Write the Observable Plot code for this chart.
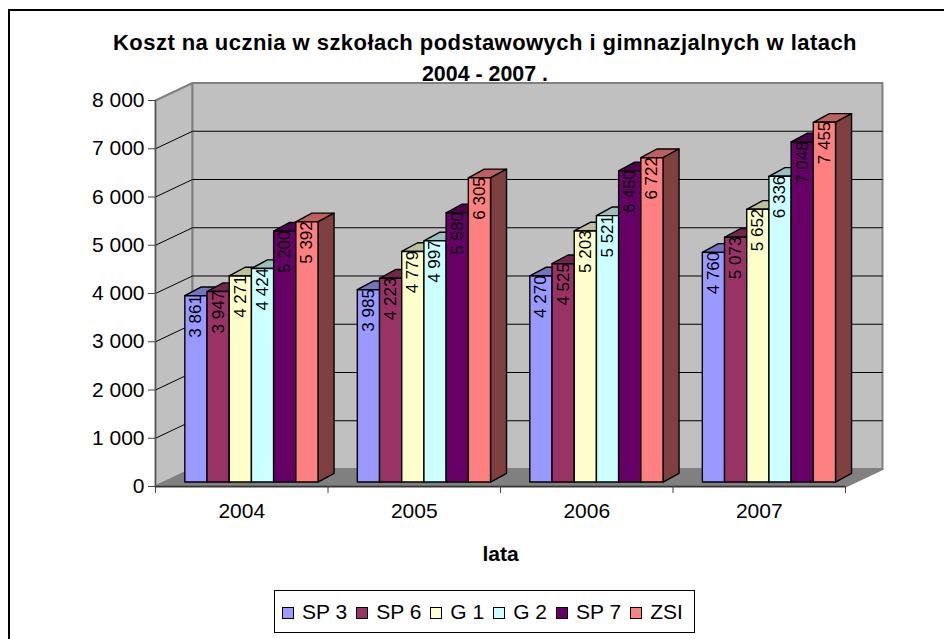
<!DOCTYPE html>
<html><head><meta charset="utf-8">
<script src="https://cdn.jsdelivr.net/npm/d3@7"></script>
<script src="https://cdn.jsdelivr.net/npm/@observablehq/plot@0.6"></script>
<style>
html,body{margin:0;padding:0;background:#fff;overflow:hidden}
#page{position:relative;width:944px;height:639px;font-family:"Liberation Sans",Arial,sans-serif;color:#000}
#frame{position:absolute;left:8px;top:9px;right:-5px;bottom:-5px;border:2px solid #000}
#title{position:absolute;left:0;width:970px;top:27px;text-align:center;font-weight:bold;font-size:22px;line-height:31px;z-index:2}
#title span{letter-spacing:.45px}
#title em{font-style:normal;font-size:21.4px}
#legend{position:absolute;left:274px;top:590px;width:412px;height:41px;border:1px solid #000;background:#fff;display:flex;align-items:center;padding-left:7px;box-sizing:content-box;font-size:21px;z-index:2}
#legend .k{display:inline-block;width:10px;height:10px;border:1.5px solid #000;margin-right:8px;margin-top:3px}
#legend .i{display:flex;align-items:center;margin-right:9px;white-space:nowrap}
svg{display:block;position:absolute;left:0;top:0}
[aria-label="bar values"] text{letter-spacing:-1.1px}
</style></head>
<body><div id="page">
<div id="frame"></div>
<div id="title"><span>Koszt na ucznia w szkołach podstawowych i gimnazjalnych w latach</span><br><em>2004 - 2007 .</em></div>
<div id="legend"></div>
</div>
<script>
const years = ["2004", "2005", "2006", "2007"];
const seriesNames = ["SP 3", "SP 6", "G 1", "G 2", "SP 7", "ZSI"];
const seriesColors = ["#9999FF", "#993366", "#FFFFCC", "#CCFFFF", "#660066", "#FF8080"];
const sp3 = [3861, 3985, 4270, 4760];
const sp6 = [3947, 4223, 4525, 5073];
const g1  = [4271, 4779, 5203, 5652];
const g2  = [4424, 4997, 5521, 6336];
const sp7 = [5200, 5580, 6450, 7048];
const zsi = [5392, 6305, 6722, 7455];
const seriesValues = [sp3, sp6, g1, g2, sp7, zsi];
const yTicks = [0, 1000, 2000, 3000, 4000, 5000, 6000, 7000, 8000];
const gridLevels = [1000, 2000, 3000, 4000, 5000, 6000, 7000];
const categoryEdges = [0, 1, 2, 3, 4];
const categoryCenters = [0.5, 1.5, 2.5, 3.5];

// oblique projection, in scale units
const wallX = 0.2145, wallY = 363;     // depth of the whole box
const barY0 = 93;                      // bar front plane inside the box
const barDX = 0.0928, barDY = 180;     // depth of one bar
const barStart = 0.170, barW = 0.1287; // within a category

const fmt = v => d3.format(",")(v).replace(/,/g, " ");
const shade = (c, k) => { const r = d3.rgb(c); return d3.rgb(r.r*k, r.g*k, r.b*k).formatHex(); };

const polys = [], labels = [];
const poly = (id, fill, pts) => pts.forEach(([x, y]) => polys.push({id, fill, x, y}));
years.forEach((yr, c) => {
  seriesNames.forEach((name, s) => {
    const v = seriesValues[s][c], col = seriesColors[s];
    const x0 = c + barStart + s * barW, x1 = x0 + barW;
    const y0 = barY0, y1 = v + barY0;
    poly(`${yr}-${s}-top`, shade(col, .75), [[x0,y1],[x1,y1],[x1+barDX,y1+barDY],[x0+barDX,y1+barDY]]);
    poly(`${yr}-${s}-side`, shade(col, .5), [[x1,y0],[x1,y1],[x1+barDX,y1+barDY],[x1+barDX,y0+barDY]]);
    poly(`${yr}-${s}-front`, col, [[x0,y0],[x1,y0],[x1,y1],[x0,y1]]);
    labels.push({x: (x0+x1)/2, y: v - 335, t: fmt(v)});
  });
});

const walls = [
  {id:"left", fill:"#C0C0C0", x:0, y:0},{id:"left", fill:"#C0C0C0", x:wallX, y:wallY},
  {id:"left", fill:"#C0C0C0", x:wallX, y:8000+wallY},{id:"left", fill:"#C0C0C0", x:0, y:8000},
  {id:"back", fill:"#C0C0C0", x:wallX, y:wallY},{id:"back", fill:"#C0C0C0", x:4+wallX, y:wallY},
  {id:"back", fill:"#C0C0C0", x:4+wallX, y:8000+wallY},{id:"back", fill:"#C0C0C0", x:wallX, y:8000+wallY},
  {id:"floor", fill:"#808080", x:0, y:0},{id:"floor", fill:"#808080", x:4, y:0},
  {id:"floor", fill:"#808080", x:4+wallX, y:wallY},{id:"floor", fill:"#808080", x:wallX, y:wallY}
];

const chart = Plot.plot({
  width: 944, height: 639,
  marginTop: 100, marginBottom: 153, marginLeft: 155, marginRight: 99,
  style: {background: "transparent", fontFamily: '"Liberation Sans",Arial,sans-serif', color: "#000"},
  x: {type: "linear", domain: [0, 4], label: null},
  y: {domain: [0, 8000], label: null},
  color: {type: "identity"},
  marks: [
    Plot.line(walls, {x:"x", y:"y", z:"id", fill:"fill", stroke:"#808080", strokeWidth:2, curve:"linear-closed"}),
    Plot.link(gridLevels, {x1:0, y1:d=>d, x2:wallX, y2:d=>d+wallY, stroke:"#000", strokeWidth:1}),
    Plot.link(gridLevels, {x1:wallX, y1:d=>d+wallY, x2:4+wallX, y2:d=>d+wallY, stroke:"#000", strokeWidth:1}),
    Plot.ruleX([0], {y1:0, y2:8000, stroke:"#555", strokeWidth:1.2}),
    Plot.ruleY([0], {x1:0, x2:4, stroke:"#333", strokeWidth:1.5}),
    Plot.line(polys, {x:"x", y:"y", z:"id", fill:"fill", stroke:"#000", strokeWidth:1.4, strokeLinejoin:"round", curve:"linear-closed"}),
    Plot.text(labels, {x:"x", y:"y", text:"t", rotate:-90, fontSize:17, textAnchor:"middle", lineAnchor:"middle", fill:"#000", ariaLabel:"bar values"}),
    Plot.axisY({ticks: yTicks, tickSize: 7, tickPadding: 4, fontSize: 21, tickFormat: fmt, label: null, stroke:"#444"}),
    Plot.axisX({ticks: categoryEdges, tickSize: 7, tickFormat: () => "", label: null, stroke:"#444"}),
    Plot.axisX({ticks: categoryCenters, tickSize: 0, tickPadding: 17, fontSize: 21, tickFormat: d => years[Math.floor(d)], label: null}),
    Plot.text(["lata"], {frameAnchor:"bottom", dy:74, fontSize:21, fontWeight:"bold", fill:"#000"})
  ]
});
document.getElementById("page").appendChild(chart);

const lg = document.getElementById("legend");
seriesNames.forEach((n, i) => {
  const it = document.createElement("span"); it.className = "i";
  const k = document.createElement("span"); k.className = "k"; k.style.background = seriesColors[i];
  it.appendChild(k); it.appendChild(document.createTextNode(n));
  lg.appendChild(it);
});
</script>
</body></html>
